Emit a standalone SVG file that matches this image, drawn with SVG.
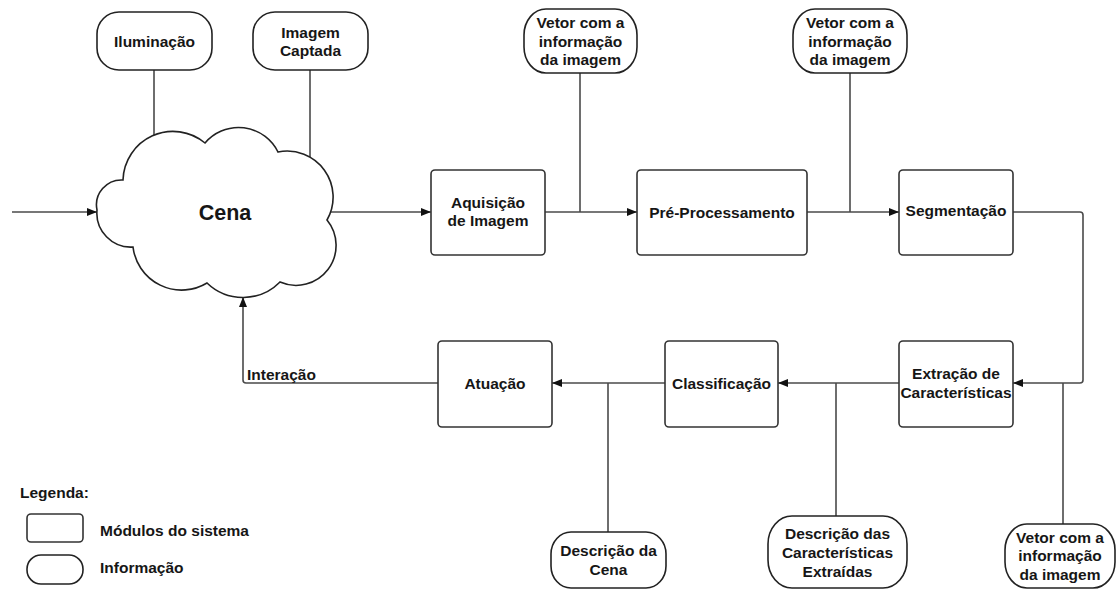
<svg xmlns="http://www.w3.org/2000/svg" width="1117" height="589" viewBox="0 0 1117 589">
  <defs>
    <marker id="arrow" viewBox="0 0 10 8" refX="10" refY="4" markerWidth="10" markerHeight="8" markerUnits="userSpaceOnUse" orient="auto">
      <path d="M0,0 L10,4 L0,8 Z" fill="#111"/>
    </marker>
    <style>
      .bg { fill: #ffffff; }
      .line { fill: none; stroke: #4a4a4a; stroke-width: 1.6; stroke-linejoin: round; }
      .arr { marker-end: url(#arrow); }
      .box { fill: #ffffff; stroke: #333333; stroke-width: 1.6; }
      .pill { fill: #ffffff; stroke: #222222; stroke-width: 1.6; }
      .cloud { fill: #ffffff; stroke: #222222; stroke-width: 1.6; }
      text { font-family: "Liberation Sans", Arial, sans-serif; font-weight: bold; font-size: 15.5px; fill: #161616; }
      .c { text-anchor: middle; dominant-baseline: central; }
      .l { text-anchor: start; dominant-baseline: central; }
      .big { font-size: 21.5px; }
    </style>
  </defs>

  <rect class="bg" x="0" y="0" width="1117" height="589"/>

  <!-- connectors -->
  <g id="connectors">
    <line class="line" x1="154" y1="70" x2="154" y2="160"/>
    <line class="line" x1="310" y1="70" x2="310" y2="180"/>
    <line class="line arr" x1="12" y1="212" x2="97" y2="212"/>
    <line class="line arr" x1="320" y1="212" x2="431" y2="212"/>
    <line class="line" x1="580" y1="73" x2="580" y2="212"/>
    <line class="line arr" x1="545" y1="212" x2="637" y2="212"/>
    <line class="line" x1="850" y1="73" x2="850" y2="212"/>
    <line class="line arr" x1="807" y1="212" x2="899" y2="212"/>
    <path class="line arr" d="M1013,212 H1080 Q1083,212 1083,215 V380 Q1083,383 1080,383 H1013"/>
    <line class="line" x1="1063" y1="383" x2="1063" y2="524"/>
    <line class="line arr" x1="899" y1="383" x2="778" y2="383"/>
    <line class="line" x1="836" y1="383" x2="836" y2="516"/>
    <line class="line arr" x1="665" y1="383" x2="552" y2="383"/>
    <line class="line" x1="608" y1="383" x2="608" y2="532"/>
    <path class="line arr" d="M438,383 H246 Q243,383 243,380 V297"/>
    <text class="l" x="247" y="374">Interação</text>
  </g>

  <!-- scene cloud -->
  <g id="cena">
    <path class="cloud" d="M97,210 A25,25 0 0 1 123,180 A50,50 0 0 1 205,143 A44,44 0 0 1 278,152 A46,46 0 0 1 327,220 A40,40 0 0 1 280,282 A52,52 0 0 1 207,283 A49,49 0 0 1 133,247 A34,34 0 0 1 97,210 Z"/>
    <text class="c big" x="225" y="213">Cena</text>
  </g>

  <!-- information nodes -->
  <g id="iluminacao">
    <rect class="pill" x="97" y="12" width="115" height="58" rx="22" ry="22"/>
    <text class="c" x="154.5" y="41">Iluminação</text>
  </g>
  <g id="imagem-captada">
    <rect class="pill" x="253" y="12" width="115" height="58" rx="22" ry="22"/>
    <text class="c" x="310.5" y="32">Imagem</text>
    <text class="c" x="310.5" y="50">Captada</text>
  </g>
  <g id="vetor-aquisicao">
    <rect class="pill" x="524" y="9" width="113" height="64" rx="22" ry="26"/>
    <text class="c" x="580.5" y="22">Vetor com a</text>
    <text class="c" x="580.5" y="41">informação</text>
    <text class="c" x="580.5" y="59">da imagem</text>
  </g>
  <g id="vetor-preprocessamento">
    <rect class="pill" x="793" y="9" width="114" height="64" rx="22" ry="26"/>
    <text class="c" x="850" y="22">Vetor com a</text>
    <text class="c" x="850" y="41">informação</text>
    <text class="c" x="850" y="59">da imagem</text>
  </g>
  <g id="vetor-segmentacao">
    <rect class="pill" x="1005" y="524" width="110" height="64" rx="22" ry="26"/>
    <text class="c" x="1060" y="537">Vetor com a</text>
    <text class="c" x="1060" y="555">informação</text>
    <text class="c" x="1060" y="574">da imagem</text>
  </g>
  <g id="descricao-caracteristicas">
    <rect class="pill" x="768" y="516" width="139" height="72" rx="24" ry="28"/>
    <text class="c" x="837.5" y="533">Descrição das</text>
    <text class="c" x="837.5" y="552">Características</text>
    <text class="c" x="837.5" y="571">Extraídas</text>
  </g>
  <g id="descricao-cena">
    <rect class="pill" x="551" y="532" width="115" height="56" rx="20" ry="22"/>
    <text class="c" x="608.5" y="550">Descrição da</text>
    <text class="c" x="608.5" y="569">Cena</text>
  </g>

  <!-- system modules -->
  <g id="aquisicao">
    <rect class="box" x="431" y="170" width="114" height="85" rx="4"/>
    <text class="c" x="488" y="202">Aquisição</text>
    <text class="c" x="488" y="220">de Imagem</text>
  </g>
  <g id="pre-processamento">
    <rect class="box" x="637" y="170" width="170" height="85" rx="4"/>
    <text class="c" x="722" y="212">Pré-Processamento</text>
  </g>
  <g id="segmentacao">
    <rect class="box" x="899" y="170" width="114" height="85" rx="4"/>
    <text class="c" x="956" y="210">Segmentação</text>
  </g>
  <g id="extracao">
    <rect class="box" x="899" y="341" width="114" height="86" rx="4"/>
    <text class="c" x="956" y="373">Extração de</text>
    <text class="c" x="956" y="392">Características</text>
  </g>
  <g id="classificacao">
    <rect class="box" x="665" y="341" width="113" height="86" rx="4"/>
    <text class="c" x="721.5" y="383">Classificação</text>
  </g>
  <g id="atuacao">
    <rect class="box" x="438" y="341" width="114" height="86" rx="4"/>
    <text class="c" x="495" y="383">Atuação</text>
  </g>

  <!-- legend -->
  <g id="legenda">
    <text class="l" x="20" y="492">Legenda:</text>
    <rect class="box" x="27" y="514" width="56" height="28" rx="4"/>
    <text class="l" x="100" y="530">Módulos do sistema</text>
    <rect class="pill" x="27" y="555" width="56" height="29" rx="14" ry="14"/>
    <text class="l" x="100" y="567">Informação</text>
  </g>
</svg>
